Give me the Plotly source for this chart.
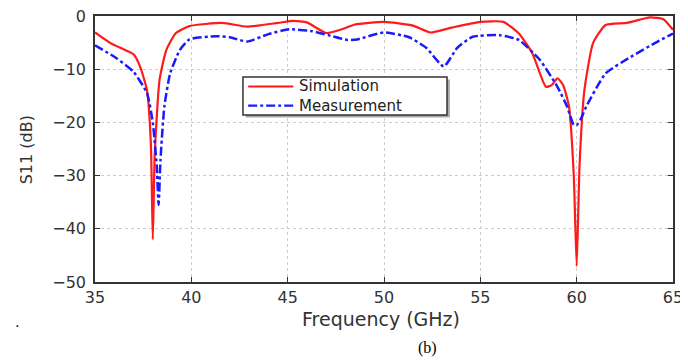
import plotly.graph_objects as go

sim_f = [35, 35.8, 36.5, 37.0, 37.35, 37.7, 37.9, 38.0, 38.1, 38.35, 38.7, 39.2, 39.9, 41.6, 42.9, 44.5, 45.3, 46.0, 47.0, 47.8, 48.5, 50.0, 51.5, 52.4, 53.5, 55.0, 56.2, 57.0, 57.7, 58.4, 58.7, 59.0, 59.3, 59.6, 59.85, 60.0, 60.15, 60.4, 60.85, 61.5, 62.6, 63.8, 64.5, 65]
sim_s11 = [-3.1, -5.1, -6.3, -7.2, -9.6, -14, -24, -42, -26, -12, -6.4, -3.2, -1.9, -1.3, -2.0, -1.3, -0.9, -1.2, -3.2, -2.5, -1.6, -1.1, -1.8, -3.1, -2.2, -1.1, -1.1, -3.3, -7, -13.3, -13, -11.7, -13, -17, -30, -47, -28, -14, -5.1, -1.7, -1.3, -0.25, -0.6, -2.6]

meas_f = [35, 36.1, 37.0, 37.7, 38.0, 38.2, 38.3, 38.4, 38.6, 38.9, 39.4, 39.9, 41.3, 42.0, 42.9, 44.0, 45.1, 46.2, 47.1, 48.1, 48.6, 50.0, 51.3, 52.2, 53.1, 53.8, 54.6, 56.0, 57.0, 58.1, 59.0, 59.5, 59.85, 60.0, 60.2, 60.5, 61.5, 62.8, 64.2, 65]
meas_s11 = [-5.5, -7.9, -10.5, -14.5, -20, -28, -35.5, -27, -17, -10.8, -6.4, -4.4, -3.8, -4.0, -4.8, -3.4, -2.5, -2.8, -3.6, -4.5, -4.4, -3.1, -4.0, -6.0, -9.5, -6.0, -3.9, -3.6, -4.5, -8.3, -13.3, -17, -20.5, -20.5, -19.5, -17, -10.8, -7.7, -4.8, -3.3]

series_names = ["Simulation", "Measurement"]
x_ticks = [35, 40, 45, 50, 55, 60, 65]
y_ticks = [0, -10, -20, -30, -40, -50]

TXT = "#333333"
RED = "#ff1a1a"
BLUE = "#1a1aff"
fig = go.Figure()
fig.add_trace(go.Scatter(x=sim_f, y=sim_s11, mode="lines", name=series_names[0], showlegend=False,
                         line=dict(color=RED, width=2.2, shape="spline", smoothing=0.5)))
fig.add_trace(go.Scatter(x=meas_f, y=meas_s11, mode="lines", name=series_names[1], showlegend=False,
                         line=dict(color=BLUE, width=2.5, dash="dashdot", shape="spline", smoothing=0.5)))

axis_common = dict(showline=True, linecolor="#333333", linewidth=1.5, mirror="ticks",
                   ticks="inside", ticklen=5, tickcolor="#333333",
                   showgrid=True, gridcolor="#cccccc", griddash="dot", gridwidth=1,
                   zeroline=False, automargin=False, ticklabeloverflow="allow",
                   tickfont=dict(family="DejaVu Sans", size=16, color=TXT))

fig.update_layout(
    width=680, height=352,
    margin=dict(l=87, r=15, t=8, b=78),
    paper_bgcolor="white", plot_bgcolor="white",
    showlegend=False,
    xaxis=dict(range=[35, 65], tickvals=x_ticks, **axis_common),
    yaxis=dict(range=[-50, 0], tickvals=y_ticks, ticklabelstandoff=4, **axis_common),
)

# manual legend box (with a light shadow)
lx0, lx1, ly0, ly1 = 0.256, 0.609, 0.628, 0.771
fig.add_shape(type="rect", xref="paper", yref="paper", x0=lx0 + 0.005, x1=lx1 + 0.005,
              y0=ly0 - 0.01, y1=ly1 - 0.01, line=dict(width=0), fillcolor="#aaaaaa", layer="above")
fig.add_shape(type="rect", xref="paper", yref="paper", x0=lx0, x1=lx1, y0=ly0, y1=ly1,
              line=dict(color="#333333", width=1.5), fillcolor="white", layer="above")
rows = [(0.735, RED, "solid", 2.2), (0.663, BLUE, "dashdot", 2.2)]
for name, (yy, col, dash, w) in zip(series_names, rows):
    fig.add_shape(type="line", xref="paper", yref="paper", x0=0.265, x1=0.343, y0=yy, y1=yy,
                  line=dict(color=col, width=w, dash=dash), layer="above")
    fig.add_annotation(text=name, xref="paper", yref="paper", x=0.351, y=yy,
                       showarrow=False, xanchor="left", yanchor="middle", borderpad=0,
                       font=dict(family="DejaVu Sans", size=15, color="#222222"))

fig.add_annotation(text="Frequency (GHz)", xref="paper", yref="paper", x=0.495, y=-0.139,
                   showarrow=False, xanchor="center", yanchor="middle",
                   font=dict(family="DejaVu Sans", size=19, color=TXT))
fig.add_annotation(text="S11 (dB)", xref="paper", yref="paper", x=-0.119, y=0.496,
                   showarrow=False, xanchor="center", yanchor="middle", textangle=-90,
                   font=dict(family="DejaVu Sans", size=16, color=TXT))
fig.add_annotation(text="(b)", xref="paper", yref="paper", x=0.576, y=-0.248,
                   showarrow=False, xanchor="center", yanchor="middle",
                   font=dict(family="Liberation Serif", size=16, color="black"))
fig.add_annotation(text=".", xref="paper", yref="paper", x=-0.135, y=-0.15,
                   showarrow=False, xanchor="center", yanchor="middle",
                   font=dict(family="DejaVu Sans", size=14, color="black"))

fig.write_html("out.html")
